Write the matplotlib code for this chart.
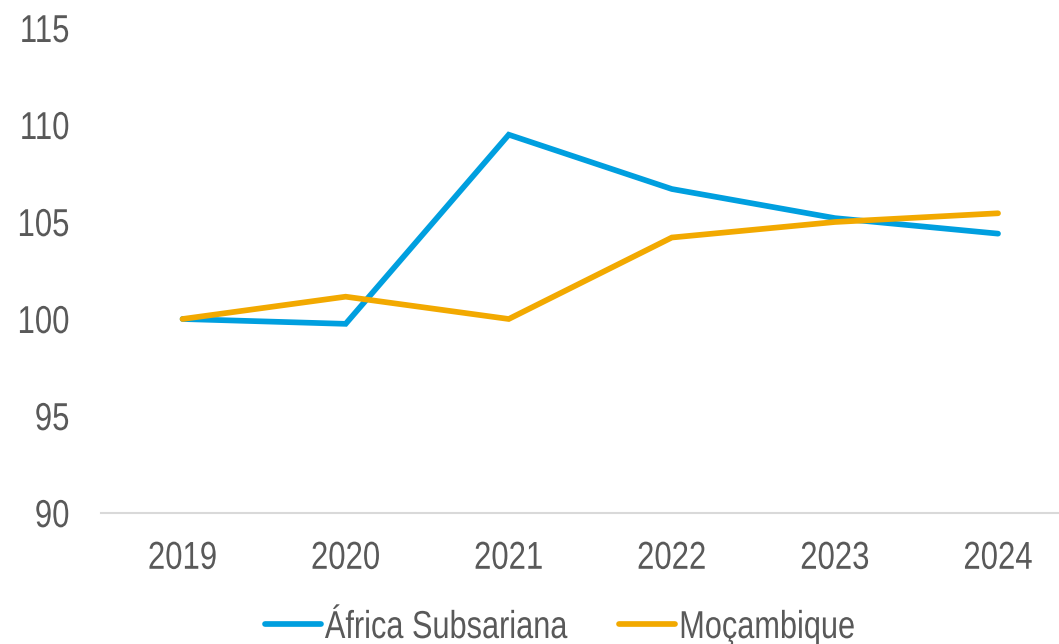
import matplotlib
matplotlib.use("Agg")
import matplotlib.pyplot as plt
from matplotlib.patheffects import AbstractPathEffect
from matplotlib.transforms import Affine2D

years = ["2019", "2020", "2021", "2022", "2023", "2024"]
africa = [100.0, 99.75, 109.5, 106.7, 105.2, 104.4]
mozambique = [100.0, 101.15, 100.0, 104.2, 105.0, 105.45]
series_names = ["África Subsariana", "Moçambique"]
yticks = [90, 95, 100, 105, 110, 115]

plt.rcParams['font.family'] = ['Liberation Sans', 'DejaVu Sans']


class Squeeze(AbstractPathEffect):
    """Condense text horizontally (emulates a narrow typeface)."""
    def __init__(self, sx=0.8, anchor='center'):
        super().__init__()
        self.sx = sx
        self.anchor = anchor

    def draw_path(self, renderer, gc, tpath, affine, rgbFace=None):
        ext = tpath.get_extents()
        if self.anchor == 'left':
            cx = ext.x0
        elif self.anchor == 'right':
            cx = ext.x1
        else:
            cx = (ext.x0 + ext.x1) / 2
        t = Affine2D().translate(-cx, 0).scale(self.sx, 1).translate(cx, 0)
        renderer.draw_path(gc, tpath, t + affine, rgbFace)


W, H = 1059, 644
FS = 28
SX = 0.8
LW = 4.1
fig = plt.figure(figsize=(W / 100, H / 100), dpi=100)
ax = fig.add_axes([101 / W, 1 - 513 / H, 1 - 101 / W, (513 - 28) / H])

x = list(range(len(years)))
blue = "#009FDF"
orange = "#F2A900"
ax.plot(x, africa, color=blue, lw=LW, solid_capstyle='round', solid_joinstyle='miter', label=series_names[0])
ax.plot(x, mozambique, color=orange, lw=LW, solid_capstyle='round', solid_joinstyle='miter', label=series_names[1])

ax.set_xlim(-0.5, (1059 - 182) / 163.2)
ax.set_ylim(90, 115)
ax.set_yticks(yticks)
ax.set_xticks(x)
ax.set_xticklabels(years)
for s in ["top", "right", "left"]:
    ax.spines[s].set_visible(False)
ax.spines["bottom"].set_color("#D9D9D9")
ax.spines["bottom"].set_linewidth(1.5)
ax.tick_params(axis='both', length=0, labelsize=FS, labelcolor="#595959")
ax.tick_params(axis='y', pad=22.5)
ax.tick_params(axis='x', pad=20)
for lab in ax.get_yticklabels():
    lab.set_path_effects([Squeeze(SX, 'right')])
for lab in ax.get_xticklabels():
    lab.set_path_effects([Squeeze(SX, 'center')])

leg = fig.legend(loc='lower left', bbox_to_anchor=(265 / W, -2 / H), ncol=2, frameon=False,
                 fontsize=FS, labelcolor="#595959", handlelength=56 / 38.9, handletextpad=0.1,
                 columnspacing=-0.33, borderpad=0, borderaxespad=0)
for t in leg.get_texts():
    t.set_path_effects([Squeeze(0.79, 'left')])
for l in leg.get_lines():
    l.set_linewidth(LW)
    l.set_solid_capstyle('round')

fig.savefig("out.png", dpi=100)
